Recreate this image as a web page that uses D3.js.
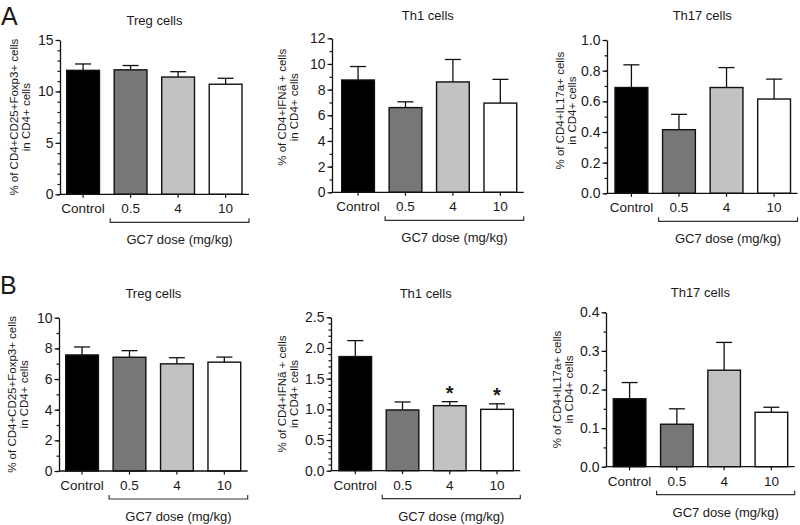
<!DOCTYPE html>
<html>
<head>
<meta charset="utf-8">
<script src="https://cdn.jsdelivr.net/npm/d3@7"></script>
<style>
  body { margin: 0; background: #fff; }
  svg text { font-family: "Liberation Sans", Arial, sans-serif; fill: #1a1a1a; }
</style>
</head>
<body>
<div id="chart-area"></div>
<script>
// groups on the x axis
var categories = ["Control", "0.5", "4", "10"]

// A: mean and SEM (upper whisker only)
var aTregMean = [12.05, 12.1, 11.4, 10.7]
var aTregSem  = [0.62, 0.42, 0.52, 0.58]
var aTh1Mean  = [8.75, 6.6, 8.6, 6.95]
var aTh1Sem   = [1.05, 0.45, 1.75, 1.85]
var aTh17Mean = [0.69, 0.415, 0.69, 0.615]
var aTh17Sem  = [0.148, 0.1, 0.13, 0.13]

// B
var bTregMean = [7.57, 7.42, 6.99, 7.1]
var bTregSem  = [0.52, 0.43, 0.4, 0.33]
var bTh1Mean  = [1.86, 0.99, 1.06, 1.0]
var bTh1Sem   = [0.26, 0.13, 0.065, 0.09]
var bTh17Mean = [0.176, 0.11, 0.25, 0.141]
var bTh17Sem  = [0.042, 0.04, 0.072, 0.013]
var bTh1Stars = ["", "", "*", "*"]

// y tick labels
var aTregTicks = [0, 5, 10, 15]
var aTh1Ticks  = [0, 2, 4, 6, 8, 10, 12]
var aTh17Ticks = [0, 0.2, 0.4, 0.6, 0.8, 1.0]
var bTregTicks = [0, 2, 4, 6, 8, 10]
var bTh1Ticks  = [0, 0.5, 1.0, 1.5, 2.0, 2.5]
var bTh17Ticks = [0, 0.1, 0.2, 0.3, 0.4]

var fills = ["#000000", "#777777", "#c2c2c2", "#ffffff"]

var svg = d3.select("#chart-area").append("svg")
    .attr("width", 800)
    .attr("height", 525)

var panels = [
  {title: "Treg cells", ylab: ["% of CD4+CD25+Foxp3+ cells", "in CD4+ cells"], mean: aTregMean, sem: aTregSem,
   ticks: aTregTicks, minor: 1, fmt: d3.format("d"), ax: 60, b0: 66.7, b1: 242, top: 40, bot: 194.3, titleY: 25, lx: -42},
  {title: "Th1 cells", ylab: ["% of CD4+IFNã + cells", "in CD4+ cells"], mean: aTh1Mean, sem: aTh1Sem,
   ticks: aTh1Ticks, minor: 1, fmt: d3.format("d"), ax: 332, b0: 341.7, b1: 516.7, top: 38.3, bot: 192.3, titleY: 20, lx: -46, lyOff: -8},
  {title: "Th17 cells", ylab: ["% of CD4+IL17a+ cells", "in CD4+ cells"], mean: aTh17Mean, sem: aTh17Sem,
   ticks: aTh17Ticks, minor: 0.1, fmt: d3.format(".1f"), ax: 607, b0: 615, b1: 790.5, top: 40, bot: 193.3, titleY: 20, lx: -43, lyOff: -6},
  {title: "Treg cells", ylab: ["% of CD4+CD25+Foxp3+ cells", "in CD4+ cells"], mean: bTregMean, sem: bTregSem,
   ticks: bTregTicks, minor: 1, fmt: d3.format("d"), ax: 59, b0: 65.7, b1: 240.7, top: 317.7, bot: 471, titleY: 298, lx: -43},
  {title: "Th1 cells", ylab: ["% of CD4+IFNã + cells", "in CD4+ cells"], mean: bTh1Mean, sem: bTh1Sem, stars: bTh1Stars,
   ticks: bTh1Ticks, minor: 0.1, fmt: d3.format(".1f"), ax: 331, b0: 339, b1: 513.3, top: 317.3, bot: 470.7, titleY: 298, lx: -45},
  {title: "Th17 cells", ylab: ["% of CD4+IL17a+ cells", "in CD4+ cells"], mean: bTh17Mean, sem: bTh17Sem,
   ticks: bTh17Ticks, minor: 0.05, fmt: d3.format(".1f"), ax: 606, b0: 613.3, b1: 787.7, top: 312.3, bot: 466.7, titleY: 297, lx: -45}
]

panels.forEach(drawPanel)

svg.append("text").attr("x", 1).attr("y", 25).attr("font-size", "25px").text("A")
svg.append("text").attr("x", 0).attr("y", 294).attr("font-size", "25px").text("B")

function drawPanel(p){
    var g = svg.append("g")
    var lineEnd = p.b1 + 7

    var x = d3.scaleBand()
        .domain(categories)
        .range([p.b0, p.b1])
        .paddingInner(0.31)
        .paddingOuter(0)

    var ymax = p.ticks[p.ticks.length - 1]
    var y = d3.scaleLinear()
        .domain([0, ymax])
        .range([p.bot, p.top])

    var data = categories.map((c, i) => ({cat: c, mean: p.mean[i], sem: p.sem[i], star: p.stars ? p.stars[i] : ""}))

    // bars
    g.selectAll("rect")
        .data(data)
        .enter()
        .append("rect")
        .attr("x", d => x(d.cat))
        .attr("y", d => y(d.mean))
        .attr("width", x.bandwidth())
        .attr("height", d => y(0) - y(d.mean))
        .attr("fill", (d, i) => fills[i])
        .attr("stroke", "#111")
        .attr("stroke-width", 1.4)

    // error whiskers
    var cap = 8
    data.forEach(d => {
        var cx = x(d.cat) + x.bandwidth() / 2
        g.append("line")
            .attr("x1", cx).attr("x2", cx)
            .attr("y1", y(d.mean)).attr("y2", y(d.mean + d.sem))
            .attr("stroke", "#111").attr("stroke-width", 1.3)
        g.append("line")
            .attr("x1", cx - cap).attr("x2", cx + cap)
            .attr("y1", y(d.mean + d.sem)).attr("y2", y(d.mean + d.sem))
            .attr("stroke", "#111").attr("stroke-width", 1.3)
        if (d.star) {
            g.append("text")
                .attr("x", cx)
                .attr("y", y(d.mean + d.sem) - 2)
                .attr("text-anchor", "middle")
                .attr("font-size", "20px")
                .attr("font-weight", "bold")
                .text(d.star)
        }
    })

    // y axis
    var minorVals = d3.range(0, ymax + p.minor / 2, p.minor)
    g.append("g")
        .attr("transform", "translate(" + p.ax + ",0)")
        .call(d3.axisLeft(y).tickValues(minorVals).tickSize(2.5).tickFormat(""))
        .call(a => a.select(".domain").remove())

    var leftAxis = d3.axisLeft(y)
        .tickValues(p.ticks)
        .tickFormat(p.fmt)
        .tickSize(4.5)
        .tickSizeOuter(0)
        .tickPadding(2)

    g.append("g")
        .attr("transform", "translate(" + p.ax + ",0)")
        .call(leftAxis)
        .call(a => a.selectAll("text").attr("font-size", "14px").attr("font-family", null))

    // x axis
    g.append("line")
        .attr("x1", p.ax).attr("x2", lineEnd)
        .attr("y1", p.bot).attr("y2", p.bot)
        .attr("stroke", "#111").attr("stroke-width", 1.3)

    var bottomAxis = d3.axisBottom(x).tickSize(3.5).tickPadding(6)
    g.append("g")
        .attr("transform", "translate(0," + p.bot + ")")
        .call(bottomAxis)
        .call(a => a.select(".domain").remove())
        .call(a => a.selectAll("text").attr("font-size", "13.5px").attr("font-family", null))

    g.selectAll(".tick line").attr("stroke", "#111").attr("stroke-width", 1.2)
    g.selectAll(".domain").attr("stroke", "#111").attr("stroke-width", 1.3)

    // dose bracket
    var bx0 = x(categories[1]) - 4
    var by = p.bot + 28
    g.append("path")
        .attr("d", "M" + bx0 + "," + (by - 4) + "V" + by + "H" + lineEnd + "V" + (by - 4))
        .attr("fill", "none")
        .attr("stroke", "#333").attr("stroke-width", 1.2)

    g.append("text")
        .attr("x", (bx0 + lineEnd) / 2)
        .attr("y", p.bot + 50)
        .attr("text-anchor", "middle")
        .attr("font-size", "13px")
        .text("GC7 dose (mg/kg)")

    // title
    g.append("text")
        .attr("x", (p.ax + lineEnd) / 2)
        .attr("y", p.titleY)
        .attr("text-anchor", "middle")
        .attr("font-size", "13px")
        .text(p.title)

    // y label, two lines
    var cy = (p.top + p.bot) / 2 + (p.lyOff || 0)
    p.ylab.forEach((t, i) => {
        g.append("text")
            .attr("transform", "translate(" + (p.ax + p.lx + i * 11.5) + "," + cy + ") rotate(-90)")
            .attr("text-anchor", "middle")
            .attr("font-size", "11.5px")
            .text(t)
    })
}
</script>
</body>
</html>
